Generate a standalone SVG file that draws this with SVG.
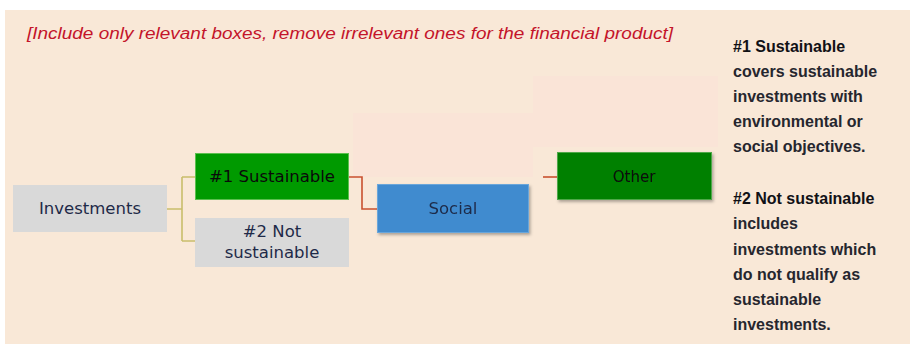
<svg xmlns="http://www.w3.org/2000/svg" width="910" height="344" viewBox="0 0 910 344">
  <style>
    .box-label { font-family: "DejaVu Sans", sans-serif; font-size: 16.5px; text-anchor: middle; dominant-baseline: central; }
    .note { font-family: "Liberation Sans", Arial, sans-serif; font-size: 16px; font-weight: bold; fill: #26262e; }
    .note-head { fill: #111116; }
    .olive { fill: none; stroke: #c9bd6c; stroke-width: 1.6; }
    .red { fill: none; stroke: #c9502f; stroke-width: 1.6; }
  </style>
  <defs>
    <filter id="shadow" x="-10%" y="-20%" width="125%" height="150%">
      <feDropShadow dx="1.5" dy="2" stdDeviation="1.5" flood-color="#000" flood-opacity="0.3"/>
    </filter>
  </defs>

  <!-- page background -->
  <rect x="0" y="0" width="910" height="344" fill="#ffffff"/>
  <rect x="5" y="10" width="905" height="334" fill="#f9e8d7"/>
  <!-- faint empty placeholder areas -->
  <rect x="353" y="113" width="180" height="64" fill="#fae4d7"/>
  <rect x="533" y="76" width="185" height="71" fill="#fae4d7"/>

  <!-- instruction line -->
  <text x="27" y="39" font-family="Liberation Sans, Arial, sans-serif" font-size="16px" font-style="italic" fill="#c4142a" textLength="646" lengthAdjust="spacingAndGlyphs">[Include only relevant boxes, remove irrelevant ones for the financial product]</text>

  <!-- connectors -->
  <g id="connectors">
    <path class="olive" d="M167 209 H182 M182 177 V241 M182 177 H195 M182 241 H195"/>
    <path class="red" d="M349 177 H362 V209 H377"/>
    <path class="red" d="M543 177 H557"/>
  </g>

  <!-- nodes -->
  <g id="investments">
    <rect x="13" y="185" width="154" height="47" fill="#d9d9d9"/>
    <text class="box-label" x="90" y="208.5" fill="#1e2a48">Investments</text>
  </g>
  <g id="sustainable">
    <rect x="195.5" y="153.5" width="153" height="46" fill="#009a00" stroke="#5cbf4f" stroke-width="1"/>
    <text class="box-label" x="272" y="176.5" fill="#0a0a0a">#1 Sustainable</text>
  </g>
  <g id="not-sustainable">
    <rect x="195" y="218" width="154" height="49" fill="#d9d9d9"/>
    <text class="box-label" x="272" y="231.5" fill="#1e2a48">#2 Not</text>
    <text class="box-label" x="272" y="252.5" fill="#1e2a48">sustainable</text>
  </g>
  <g id="social" filter="url(#shadow)">
    <rect x="377.5" y="184.5" width="151" height="48" fill="#3f8bcf" stroke="#6aa6da" stroke-width="1"/>
    <text class="box-label" x="453" y="208.5" fill="#1e2a48">Social</text>
  </g>
  <g id="other" filter="url(#shadow)">
    <rect x="557.5" y="152.5" width="154" height="47" fill="#008000" stroke="#4fa84a" stroke-width="1"/>
    <text class="box-label" x="634" y="176.5" fill="#0a0a0a" style="font-size:15px">Other</text>
  </g>

  <!-- legend notes -->
  <g id="legend">
    <text class="note note-head" x="733" y="52">#1 Sustainable</text>
    <text class="note" x="733" y="77">covers sustainable</text>
    <text class="note" x="733" y="102">investments with</text>
    <text class="note" x="733" y="127">environmental or</text>
    <text class="note" x="733" y="152">social objectives.</text>
    <text class="note note-head" x="733" y="204">#2 Not sustainable</text>
    <text class="note" x="733" y="229">includes</text>
    <text class="note" x="733" y="255">investments which</text>
    <text class="note" x="733" y="280">do not qualify as</text>
    <text class="note" x="733" y="305">sustainable</text>
    <text class="note" x="733" y="330">investments.</text>
  </g>
</svg>
